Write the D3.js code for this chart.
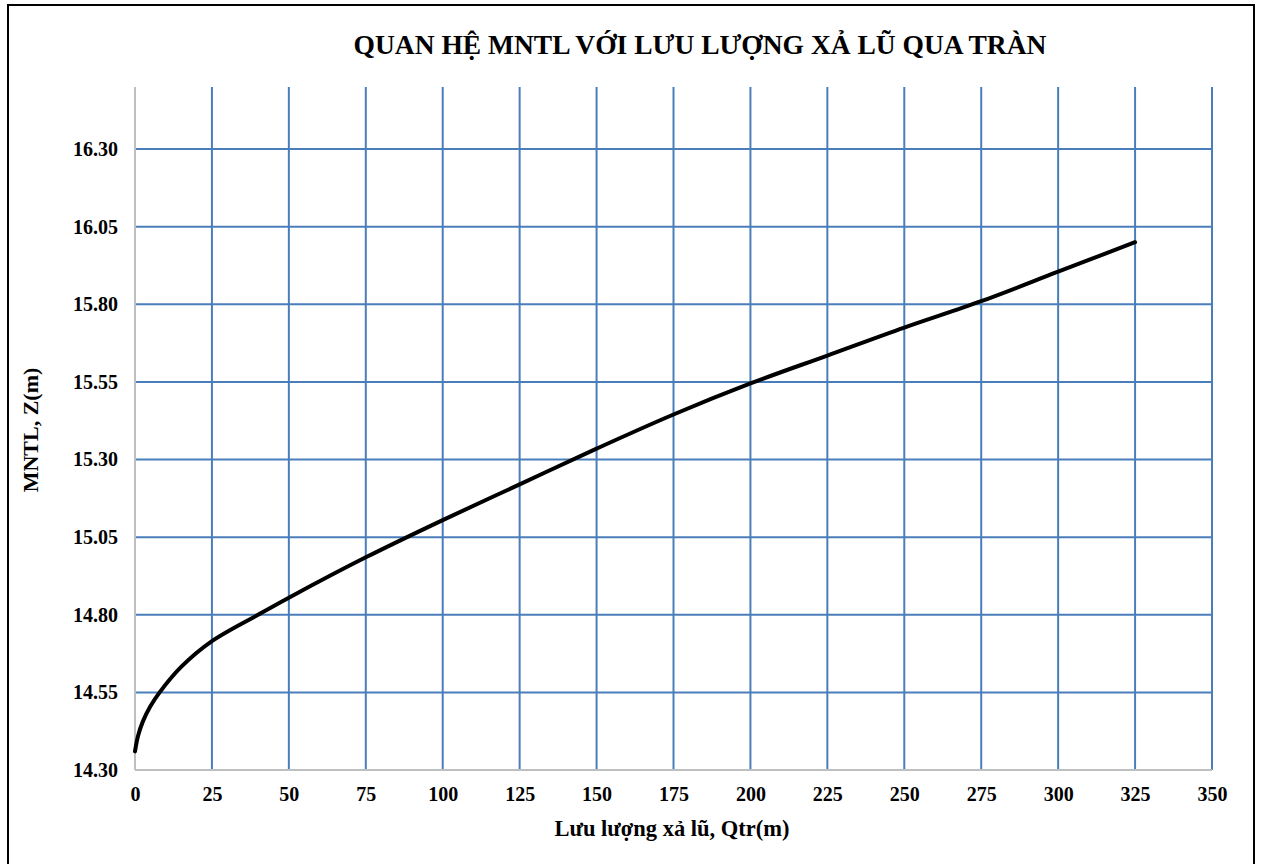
<!DOCTYPE html>
<html>
<head>
<meta charset="utf-8">
<script src="https://cdn.jsdelivr.net/npm/d3@7"></script>
<style>
  body { margin: 0; background: #fff; }
  text { font-family: "Liberation Serif", "Times New Roman", serif; font-weight: bold; fill: #000; }
</style>
</head>
<body>
<div id="chart"></div>
<script>
// Số liệu đọc từ đồ thị: lưu lượng xả (Q) và mực nước thượng lưu (Z)
const luuLuong = [0, 1, 2.5, 5, 8, 15, 25, 40, 50, 75, 100, 125, 150, 175, 200, 225, 250, 275, 300, 325];
const mucNuoc = [14.36, 14.41, 14.455, 14.505, 14.55, 14.632, 14.715, 14.80, 14.855, 14.985, 15.105, 15.22, 15.335, 15.445, 15.545, 15.635, 15.725, 15.81, 15.905, 16.00];
const xTicks = [0, 25, 50, 75, 100, 125, 150, 175, 200, 225, 250, 275, 300, 325, 350];
const yTicks = [14.30, 14.55, 14.80, 15.05, 15.30, 15.55, 15.80, 16.05, 16.30];

const W = 1261, H = 864;
const plot = { left: 135, right: 1212, top: 87, bottom: 770 };
const gridColor = "#4a7ebb";

const svg = d3.select("#chart").append("svg")
    .attr("width", W)
    .attr("height", H);

// khung ngoài
svg.append("rect")
    .attr("x", 8).attr("y", 5)
    .attr("width", 1246).attr("height", 870)
    .attr("fill", "#fff")
    .attr("stroke", "#000")
    .attr("stroke-width", 2);

const x = d3.scaleLinear().domain([0, 350]).range([plot.left, plot.right]);
const y = d3.scaleLinear().domain([14.30, 16.50]).range([plot.bottom, plot.top]);

// lưới dọc
svg.append("g").selectAll("line")
    .data(xTicks.filter(d => d > 0))
    .join("line")
    .attr("x1", d => x(d)).attr("x2", d => x(d))
    .attr("y1", plot.top).attr("y2", plot.bottom)
    .attr("stroke", gridColor).attr("stroke-width", 2);

// lưới ngang
svg.append("g").selectAll("line")
    .data(yTicks.filter(d => d > 14.31))
    .join("line")
    .attr("x1", plot.left).attr("x2", plot.right)
    .attr("y1", d => y(d)).attr("y2", d => y(d))
    .attr("stroke", gridColor).attr("stroke-width", 2);

// trục
const xAxis = svg.append("g")
    .attr("transform", `translate(0,${plot.bottom})`)
    .call(d3.axisBottom(x).tickValues(xTicks).tickSize(0).tickPadding(17).tickFormat(d3.format("d")));
const yAxis = svg.append("g")
    .attr("transform", `translate(${plot.left},0)`)
    .call(d3.axisLeft(y).tickValues(yTicks).tickSize(0).tickPadding(17).tickFormat(d3.format(".2f")));

[xAxis, yAxis].forEach(a => {
    a.select(".domain").attr("stroke", "#bfbfbf").attr("stroke-width", 2);
    a.selectAll("text")
        .style("font-family", '"Liberation Serif", "Times New Roman", serif')
        .style("font-weight", "bold")
        .style("font-size", "20px");
});
yAxis.select(".domain").attr("d", `M0,${plot.top}V${plot.bottom}`);
xAxis.select(".domain").attr("d", `M${plot.left},0H${plot.right}`);

// đường quan hệ
const line = d3.line()
    .x((d, i) => x(luuLuong[i]))
    .y(d => y(d))
    .curve(d3.curveCatmullRom.alpha(0.5));

svg.append("path")
    .datum(mucNuoc)
    .attr("d", line)
    .attr("fill", "none")
    .attr("stroke", "#000")
    .attr("stroke-width", 4)
    .attr("stroke-linecap", "round")
    .attr("stroke-linejoin", "round");

// tiêu đề
svg.append("text")
    .attr("x", 700).attr("y", 54)
    .attr("text-anchor", "middle")
    .style("font-size", "27.5px")
    .text("QUAN HỆ MNTL VỚI LƯU LƯỢNG XẢ LŨ QUA TRÀN");

svg.append("text")
    .attr("x", 672).attr("y", 836)
    .attr("text-anchor", "middle")
    .style("font-size", "22.5px")
    .text("Lưu lượng xả lũ, Qtr(m)");

svg.append("text")
    .attr("transform", `translate(38,430) rotate(-90)`)
    .attr("text-anchor", "middle")
    .style("font-size", "22px")
    .text("MNTL, Z(m)");
</script>
</body>
</html>
